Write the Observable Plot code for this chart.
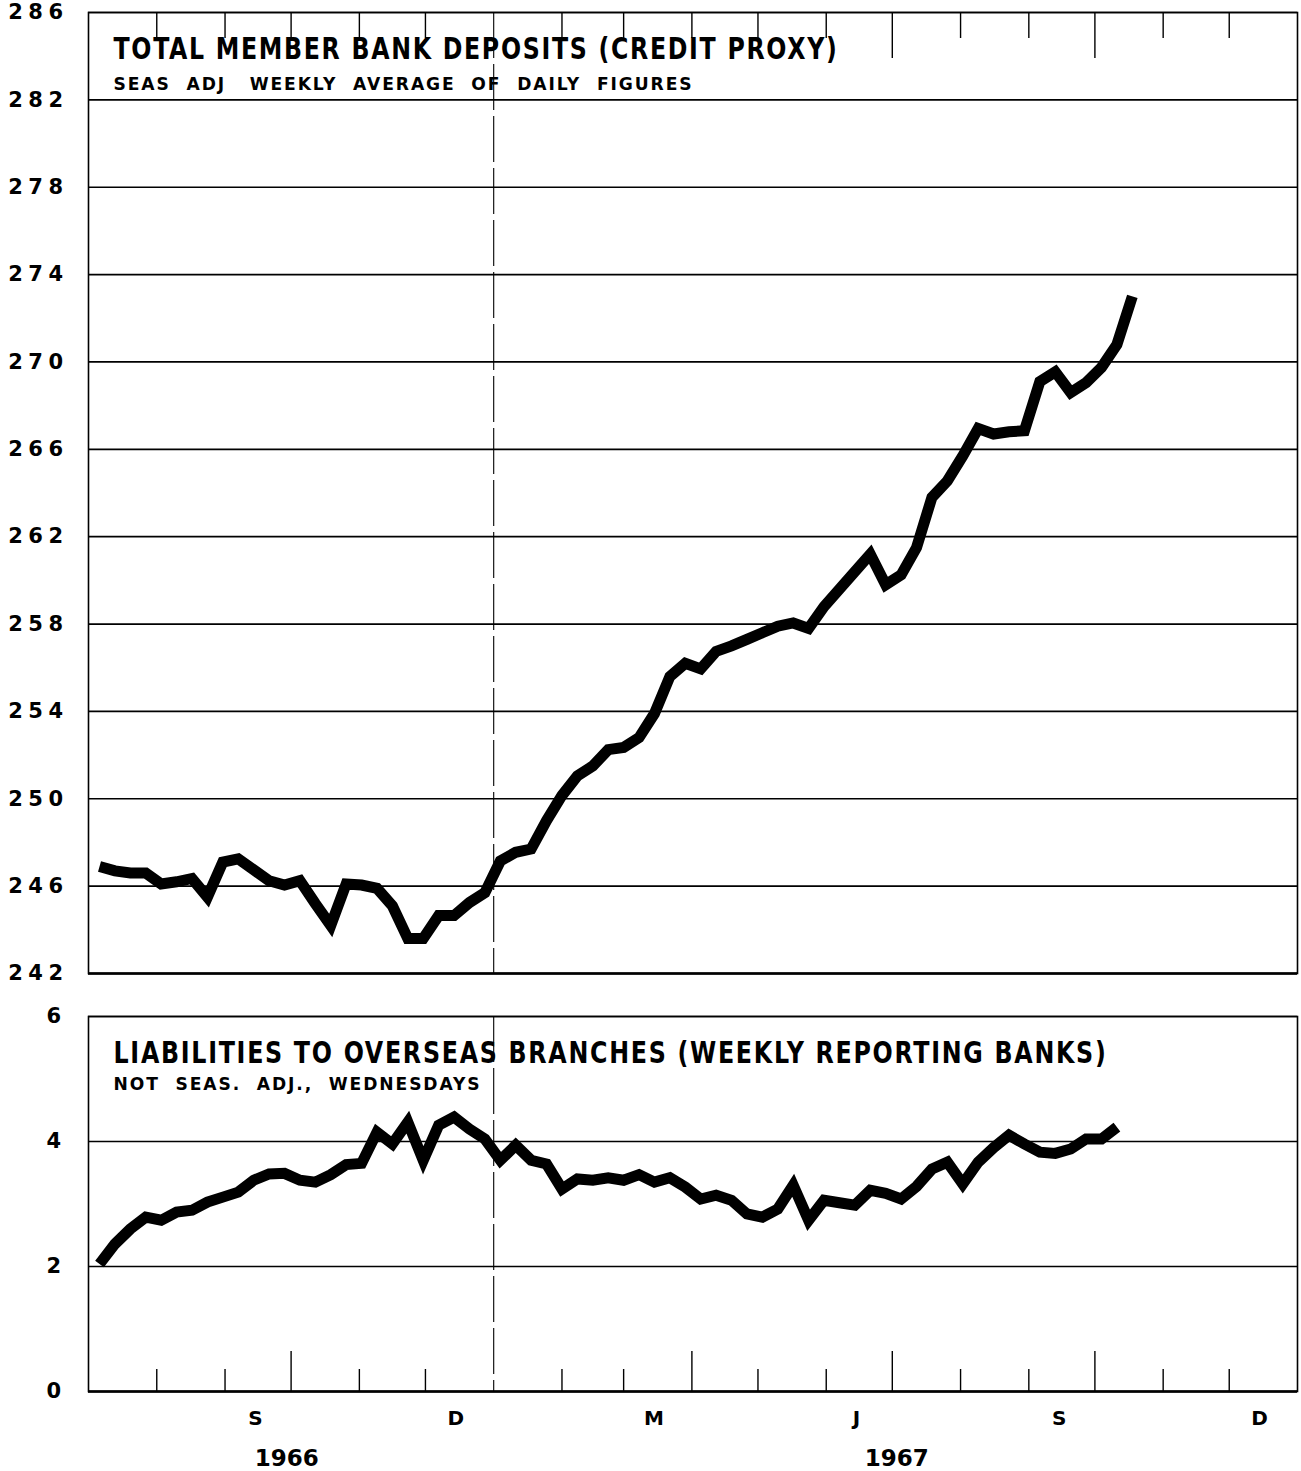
<!DOCTYPE html>
<html><head><meta charset="utf-8">
<script src="https://cdn.jsdelivr.net/npm/d3@7"></script>
<script src="https://cdn.jsdelivr.net/npm/@observablehq/plot@0.6"></script>
<style>
html,body{margin:0;padding:0;background:#fff;}
#chart svg{display:block;background:#fff;}
#chart svg + svg{margin-top:15px;}
g[aria-label="y-axis tick label"] text{letter-spacing:5.5px;}
g[aria-label="x-axis tick label"] text{letter-spacing:1px;}
</style></head><body><div id="chart"></div>
<script>
// ---------- DATA ----------
const firstWeek = "1966-07-06";           // first Wednesday plotted
const depositValues = [
  246.9, 246.7, 246.6, 246.6, 246.1, 246.2, 246.35, 245.5, 247.1, 247.25,
  246.75, 246.25, 246.05, 246.25, 245.2, 244.2, 246.1, 246.05, 245.9, 245.1,
  243.6, 243.6, 244.65, 244.65, 245.25, 245.7, 247.15, 247.55, 247.7, 249.0,
  250.15, 251.05, 251.5, 252.25, 252.35, 252.8, 253.9, 255.6, 256.2, 255.95,
  256.75, 257.0, 257.3, 257.6, 257.9, 258.05, 257.8, 258.8, 259.6, 260.4,
  261.2, 259.8, 260.25, 261.5, 263.8, 264.55, 265.7, 266.95, 266.7, 266.8,
  266.85, 269.1, 269.55, 268.6, 269.05, 269.75, 270.8, 273.0
];
const liabilityValues = [
  2.04, 2.36, 2.60, 2.79, 2.74, 2.87, 2.90, 3.03, 3.11, 3.19,
  3.38, 3.48, 3.49, 3.38, 3.35, 3.47, 3.63, 3.65, 4.15, 3.96,
  4.31, 3.70, 4.26, 4.39, 4.20, 4.04, 3.70, 3.94, 3.70, 3.64,
  3.24, 3.40, 3.38, 3.42, 3.38, 3.47, 3.35, 3.42, 3.27, 3.08,
  3.14, 3.06, 2.84, 2.79, 2.92, 3.30, 2.74, 3.06, 3.02, 2.98,
  3.22, 3.17, 3.08, 3.28, 3.56, 3.67, 3.32, 3.67, 3.90, 4.10,
  3.96, 3.83, 3.81, 3.88, 4.04, 4.04, 4.23
];
const xDomainDates = ["1966-07-01", "1968-01-01"];
const yearDividerDates = ["1967-01-01"];
const topShortTickDates = ["1966-08-01","1966-09-01","1966-10-01","1966-11-01","1966-12-01",
  "1967-02-01","1967-03-01","1967-04-01","1967-05-01","1967-06-01","1967-08-01","1967-09-01",
  "1967-11-01","1967-12-01"];
const topLongTickDates = ["1967-07-01","1967-10-01"];
const bottomShortTickDates = ["1966-08-01","1966-09-01","1966-11-01","1966-12-01",
  "1967-02-01","1967-03-01","1967-05-01","1967-06-01","1967-08-01","1967-09-01",
  "1967-11-01","1967-12-01"];
const bottomLongTickDates = ["1966-10-01","1967-04-01","1967-07-01","1967-10-01"];
const monthLabelDates = ["1966-09-15","1966-12-15","1967-03-15","1967-06-15","1967-09-15","1967-12-15"];
const monthLabels = ["S","D","M","J","S","D"];
const yearLabelDates = ["1966-09-29","1967-07-03"];
const yearLabels = ["1966","1967"];
const depositTicks = [242,246,250,254,258,262,266,270,274,278,282,286];
const liabilityTicks = [0,2,4,6];
const title1 = "TOTAL MEMBER BANK DEPOSITS (CREDIT PROXY)";
const subtitle1 = "SEAS  ADJ   WEEKLY  AVERAGE  OF  DAILY  FIGURES";
const title2 = "LIABILITIES TO OVERSEAS BRANCHES (WEEKLY REPORTING BANKS)";
const subtitle2 = "NOT  SEAS.  ADJ.,  WEDNESDAYS";

// ---------- BUILD ----------
const P = s => new Date(s + "T00:00:00Z");
const start = P(firstWeek);
const weekly = vals => vals.map((v, i) => ({date: d3.utcDay.offset(start, 7 * i), value: v}));
const deposits = weekly(depositValues);
const liabilities = weekly(liabilityValues);
const xDomain = xDomainDates.map(P);
const yearDivider = yearDividerDates.map(P);
const monthFmt = new Map(monthLabelDates.map((d, i) => [+P(d), monthLabels[i]]));
const years = yearLabelDates.map((d, i) => ({date: P(d), label: yearLabels[i]}));

const W = 1301;
const H1 = 985, MT1 = 12, MB1 = 12, inner1 = H1 - MT1 - MB1;
const H2 = 471, MT2 = 16, MB2 = 80, inner2 = H2 - MT2 - MB2;
const ML = 88, MR = 4;
const INK = "#000";
const titleFont = "'Liberation Sans Narrow','DejaVu Sans Condensed','Roboto','DejaVu Sans',sans-serif";
const labelFont = "'DejaVu Sans','Verdana',sans-serif";
const intFmt = d3.format("d");

const p1 = Plot.plot({
  width: W, height: H1, marginTop: MT1, marginBottom: MB1, marginLeft: ML, marginRight: MR,
  x: {type: "utc", domain: xDomain, axis: null},
  y: {domain: [242, 286]},
  marks: [
    Plot.gridY(depositTicks, {stroke: INK, strokeOpacity: 1, strokeWidth: 1.7}),
    Plot.ruleX(yearDivider, {stroke: INK, strokeWidth: 1.1, strokeDasharray: "46,6"}),
    Plot.ruleX(topShortTickDates.map(P), {stroke: INK, strokeWidth: 1.4, insetBottom: inner1 - 26}),
    Plot.ruleX(topLongTickDates.map(P), {stroke: INK, strokeWidth: 1.4, insetBottom: inner1 - 46}),
    Plot.frame({stroke: INK, strokeWidth: 1.6}),
    Plot.ruleY([242], {stroke: INK, strokeWidth: 2.4}),
    Plot.axisY(depositTicks, {tickSize: 0, tickPadding: 20, tickFormat: intFmt, fontSize: 21, fontWeight: "bold", fontFamily: labelFont, label: null}),
    Plot.line(deposits, {x: "date", y: "value", stroke: INK, strokeWidth: 11, strokeLinejoin: "miter", strokeMiterlimit: 3, strokeLinecap: "butt"}),
    Plot.text([title1], {text: d => d, frameAnchor: "top-left", textAnchor: "start", lineAnchor: "middle", dx: 25, dy: 37, fontSize: 31, fontWeight: "bold", fontFamily: titleFont, fill: INK}),
    Plot.text([subtitle1], {text: d => d, frameAnchor: "top-left", textAnchor: "start", lineAnchor: "middle", dx: 25, dy: 72, fontSize: 18, fontWeight: "bold", fontFamily: labelFont, fill: INK})
  ]
});

const p2 = Plot.plot({
  width: W, height: H2, marginTop: MT2, marginBottom: MB2, marginLeft: ML, marginRight: MR,
  x: {type: "utc", domain: xDomain},
  y: {domain: [0, 6]},
  marks: [
    Plot.gridY(liabilityTicks, {stroke: INK, strokeOpacity: 1, strokeWidth: 1.7}),
    Plot.ruleX(yearDivider, {stroke: INK, strokeWidth: 1.1, strokeDasharray: "46,6"}),
    Plot.ruleX(bottomShortTickDates.map(P), {stroke: INK, strokeWidth: 1.4, insetTop: inner2 - 22}),
    Plot.ruleX(bottomLongTickDates.map(P), {stroke: INK, strokeWidth: 1.4, insetTop: inner2 - 40}),
    Plot.frame({stroke: INK, strokeWidth: 1.6}),
    Plot.ruleY([0], {stroke: INK, strokeWidth: 2.6}),
    Plot.axisY(liabilityTicks, {tickSize: 0, tickPadding: 22, tickFormat: intFmt, fontSize: 21, fontWeight: "bold", fontFamily: labelFont, label: null}),
    Plot.axisX(monthLabelDates.map(P), {tickSize: 0, tickPadding: 19, tickFormat: d => monthFmt.get(+d), fontSize: 20, fontWeight: "bold", fontFamily: labelFont, label: null}),
    Plot.text(years, {x: "date", text: "label", frameAnchor: "bottom", lineAnchor: "middle", dy: 67, fontSize: 23, fontWeight: "bold", fontFamily: labelFont, fill: INK}),
    Plot.line(liabilities, {x: "date", y: "value", stroke: INK, strokeWidth: 11, strokeLinejoin: "miter", strokeMiterlimit: 3, strokeLinecap: "butt"}),
    Plot.text([title2], {text: d => d, frameAnchor: "top-left", textAnchor: "start", lineAnchor: "middle", dx: 25, dy: 37, fontSize: 31, fontWeight: "bold", fontFamily: titleFont, fill: INK}),
    Plot.text([subtitle2], {text: d => d, frameAnchor: "top-left", textAnchor: "start", lineAnchor: "middle", dx: 25, dy: 68, fontSize: 18, fontWeight: "bold", fontFamily: labelFont, fill: INK})
  ]
});

const chart = document.getElementById("chart");
chart.append(p1, p2);

// stretch the headings to the printed widths
const widths = new Map([[title1, 725], [subtitle1, 580], [title2, 994], [subtitle2, 368]]);
d3.selectAll("#chart svg text").each(function() {
  const w = widths.get(this.textContent);
  if (w) { this.setAttribute("textLength", w); this.setAttribute("lengthAdjust", "spacingAndGlyphs"); this.setAttribute("letter-spacing", "2"); }
});
</script></body></html>
